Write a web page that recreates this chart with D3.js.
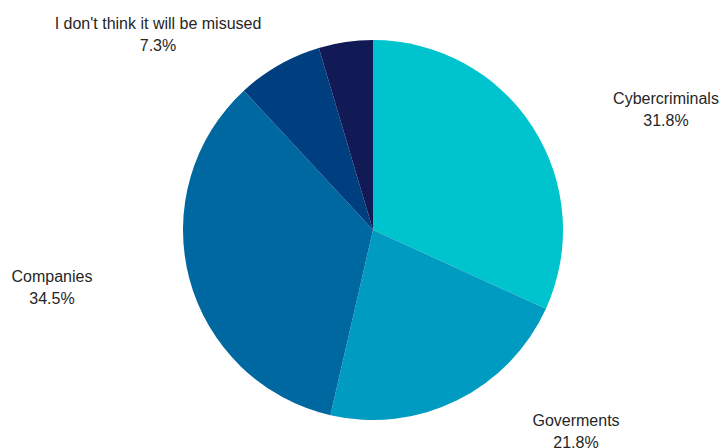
<!DOCTYPE html>
<html>
<head>
<meta charset="utf-8">
<script src="https://cdn.jsdelivr.net/npm/d3@7"></script>
<style>
  body { margin: 0; background: #fff; }
  svg { display: block; }
  .label { font-family: "Liberation Sans", Arial, sans-serif; font-size: 16px; fill: #262626; }
</style>
</head>
<body>
<div id="chart"></div>
<script>
// data
var categories = ["Cybercriminals", "Goverments", "Companies", "I don't think it will be misused", "Other"];
var values = [31.8, 21.8, 34.5, 7.3, 4.6];
var showLabel = [true, true, true, true, false];
var colors = ["#00c4cd", "#009bc0", "#0068a0", "#003f7f", "#121a56"];

// layout
var width = 720, height = 448;
var cx = 373, cy = 230, radius = 190;
// label anchor points (text centre, first baseline)
var labelAt = [[666, 104], [576, 426], [52, 282], [158, 29], null];
var lineGap = 22;

var svg = d3.select("#chart").append("svg").attr("width", width).attr("height", height);

var pie = d3.pie().sort(null).value(function (d) { return d; });
var arcs = pie(values);
var arc = d3.arc().innerRadius(0).outerRadius(radius);

var g = svg.append("g").attr("transform", "translate(" + cx + "," + cy + ")");

g.selectAll("path.slice").data(arcs).enter().append("path")
  .attr("class", "slice")
  .attr("d", arc)
  .attr("fill", function (d, i) { return colors[i]; });

var labels = svg.selectAll("g.lbl").data(arcs).enter()
  .filter(function (d, i) { return showLabel[i]; })
  .append("g").attr("class", "lbl")
  .attr("transform", function (d) {
    var p = labelAt[d.index];
    return "translate(" + p[0] + "," + p[1] + ")";
  });

labels.append("text").attr("class", "label").attr("text-anchor", "middle")
  .text(function (d) { return categories[d.index]; });

labels.append("text").attr("class", "label").attr("text-anchor", "middle")
  .attr("y", lineGap)
  .text(function (d) { return d3.format(".1f")(d.data) + "%"; });
</script>
</body>
</html>
